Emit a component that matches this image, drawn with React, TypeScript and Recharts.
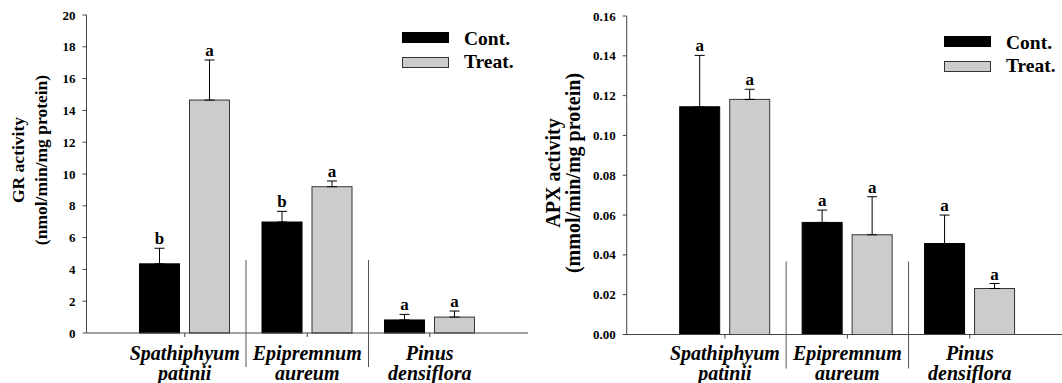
import React from 'react';
import { BarChart, Bar, XAxis, YAxis, ErrorBar, Legend } from 'recharts';

const FONT = "'Liberation Serif', 'Times New Roman', Times, serif";
const AXIS = '#444444';

// Categories (two-line italic labels)
const categoryLine1 = ['Spathiphyum', 'Epipremnum', 'Pinus'];
const categoryLine2 = ['patinii', 'aureum', 'densiflora'];

// GR activity (left panel)
const grCont = [4.35, 6.98, 0.82];
const grContErr = [0.98, 0.67, 0.35];
const grTreat = [14.65, 9.2, 1.0];
const grTreatErr = [2.52, 0.36, 0.38];
const grContLetters = ['b', 'b', 'a'];
const grTreatLetters = ['a', 'a', 'a'];
const grTicks = [0, 2, 4, 6, 8, 10, 12, 14, 16, 18, 20];

// APX activity (right panel)
const apxCont = [0.1144, 0.0563, 0.0457];
const apxContErr = [0.0258, 0.0062, 0.0143];
const apxTreat = [0.1181, 0.0501, 0.0231];
const apxTreatErr = [0.0051, 0.0191, 0.0025];
const apxContLetters = ['a', 'a', 'a'];
const apxTreatLetters = ['a', 'a', 'a'];
const apxTicks = [0, 0.02, 0.04, 0.06, 0.08, 0.1, 0.12, 0.14, 0.16];

const seriesNames = ['Cont.', 'Treat.'];
const seriesFill = ['#000000', '#cccccc'];
const seriesStroke = ['#000000', '#333333'];

function buildRows(cont: number[], contErr: number[], treat: number[], treatErr: number[], cl: string[], tl: string[]) {
  return categoryLine1.map((name, i) => ({
    name,
    cont: cont[i],
    contE: contErr[i],
    contErr: [0, contErr[i]],
    contLetter: cl[i],
    treat: treat[i],
    treatE: treatErr[i],
    treatErr: [0, treatErr[i]],
    treatLetter: tl[i],
  }));
}

const grData = buildRows(grCont, grContErr, grTreat, grTreatErr, grContLetters, grTreatLetters);
const apxData = buildRows(apxCont, apxContErr, apxTreat, apxTreatErr, apxContLetters, apxTreatLetters);

function makeShape(fill: string, stroke: string, valueKey: string, errKey: string, letterKey: string) {
  return (props: any) => {
    const { x, y, width, height, payload } = props;
    const v = payload[valueKey];
    const e = payload[errKey];
    const pxPerUnit = v ? height / v : 0;
    const topY = y - e * pxPerUnit;
    return (
      <g>
        <rect x={x} y={y} width={width} height={height} fill={fill} stroke={stroke} strokeWidth={1} />
        <text
          x={x + width / 2}
          y={topY - 4}
          textAnchor="middle"
          fontFamily={FONT}
          fontWeight="bold"
          fontSize={17}
          fill="#000"
        >
          {payload[letterKey]}
        </text>
      </g>
    );
  };
}

const CatTick = (props: any) => {
  const { x, y, payload, line1Dy, line2Dy } = props;
  const i = categoryLine1.indexOf(payload.value);
  const half = payload.offset ?? 0;
  return (
    <g>
      {i > 0 && <line x1={x - half} x2={x - half} y1={y - 77} y2={y + 30} stroke="#555" strokeWidth={1} />}
      <text x={x} y={y + line1Dy} textAnchor="middle" fontFamily={FONT} fontWeight="bold" fontStyle="italic" fontSize={20} fill="#000">
        {categoryLine1[i]}
      </text>
      <text x={x} y={y + line2Dy} textAnchor="middle" fontFamily={FONT} fontWeight="bold" fontStyle="italic" fontSize={20} fill="#000">
        {categoryLine2[i]}
      </text>
    </g>
  );
};

const AxisTitle = (props: any) => {
  const vb = props.viewBox || { x: 0, y: 0, width: 0, height: 0 };
  const { line1, line2, dx1, dx2, cy, size } = props;
  const x1 = vb.x + dx1;
  const x2 = vb.x + dx2;
  return (
    <g>
      <text transform={`translate(${x1},${cy}) rotate(-90)`} textAnchor="middle" dominantBaseline="central" fontFamily={FONT} fontWeight="bold" fontSize={size} fill="#000">
        {line1}
      </text>
      <text transform={`translate(${x2},${cy}) rotate(-90)`} textAnchor="middle" dominantBaseline="central" fontFamily={FONT} fontWeight="bold" fontSize={size} fill="#000">
        {line2}
      </text>
    </g>
  );
};

const LegendBox = () => (
  <svg width={140} height={50} style={{ overflow: 'visible', display: 'block' }}>
    <rect x={2.5} y={4.5} width={46} height={10} fill={seriesFill[0]} stroke={seriesStroke[0]} />
    <rect x={2.5} y={29.5} width={46} height={10} fill={seriesFill[1]} stroke={seriesStroke[1]} />
    <text x={64} y={17} fontFamily={FONT} fontWeight="bold" fontSize={19.5} fill="#000">{seriesNames[0]}</text>
    <text x={64} y={40} fontFamily={FONT} fontWeight="bold" fontSize={19.5} fill="#000">{seriesNames[1]}</text>
  </svg>
);

const tickStyle = { fontFamily: FONT, fontWeight: 'bold', fontSize: 13, fill: '#000' } as any;

function Panel(props: {
  data: any[];
  ticks: number[];
  fmt: (v: number) => string;
  top: number;
  xHeight: number;
  yWidth: number;
  title1: string;
  title2: string;
  dx1: number;
  dx2: number;
  cy: number;
  titleSize: number;
  legendLeft: number;
  legendTop: number;
  line1Dy: number;
  line2Dy: number;
}) {
  const p = props;
  const max = p.ticks[p.ticks.length - 1];
  return (
    <BarChart
      width={540}
      height={383}
      data={p.data}
      margin={{ top: p.top, right: 12, bottom: 0, left: 0 }}
      barSize={40}
      barGap={10}
    >
      <XAxis
        dataKey="name"
        type="category"
        interval={0}
        padding={{ left: 37, right: 37 }}
        height={p.xHeight}
        tickSize={4}
        tickMargin={0}
        tickLine={{ stroke: AXIS }}
        axisLine={{ stroke: AXIS }}
        tick={<CatTick line1Dy={p.line1Dy} line2Dy={p.line2Dy} />}
      />
      <XAxis
        xAxisId="top"
        orientation="top"
        dataKey="name"
        height={0}
        tick={false}
        tickLine={false}
        axisLine={{ stroke: AXIS }}
      />
      <YAxis
        type="number"
        domain={[0, max]}
        ticks={p.ticks}
        interval={0}
        width={p.yWidth}
        tickSize={4}
        tickMargin={7}
        tickFormatter={p.fmt}
        tick={tickStyle}
        tickLine={{ stroke: AXIS }}
        axisLine={{ stroke: AXIS }}
        label={<AxisTitle line1={p.title1} line2={p.title2} dx1={p.dx1} dx2={p.dx2} cy={p.cy} size={p.titleSize} />}
      />
      <YAxis yAxisId="right" orientation="right" width={0} tick={false} tickLine={false} axisLine={{ stroke: AXIS }} />
      <Legend
        layout="horizontal"
        verticalAlign="middle"
        align="center"
        content={<LegendBox />}
        wrapperStyle={{ left: p.legendLeft, top: p.legendTop, width: 140, height: 50 }}
      />
      <Bar dataKey="cont" name={seriesNames[0]} isAnimationActive={false} shape={makeShape(seriesFill[0], seriesStroke[0], 'cont', 'contE', 'contLetter')}>
        <ErrorBar dataKey="contErr" width={5} stroke="#000" strokeWidth={1} direction="y" isAnimationActive={false} />
      </Bar>
      <Bar dataKey="treat" name={seriesNames[1]} isAnimationActive={false} shape={makeShape(seriesFill[1], seriesStroke[1], 'treat', 'treatE', 'treatLetter')}>
        <ErrorBar dataKey="treatErr" width={5} stroke="#000" strokeWidth={1} direction="y" isAnimationActive={false} />
      </Bar>
    </BarChart>
  );
}

export default function App() {
  return (
    <div style={{ position: 'absolute', left: 0, top: 0, width: 1062, height: 383, overflow: 'hidden', background: '#fff' }}>
      <div style={{ position: 'absolute', left: 0, top: 0, width: 540, height: 383 }}>
        <Panel
          data={grData}
          ticks={grTicks}
          fmt={(v) => String(v)}
          top={15}
          xHeight={50}
          yWidth={86.5}
          title1="GR activity"
          title2="(nmol/min/mg protein)"
          dx1={17.5}
          dx2={40.5}
          cy={160}
          titleSize={17.5}
          legendLeft={400}
          legendTop={28}
          line1Dy={23}
          line2Dy={43}
        />
      </div>
      <div style={{ position: 'absolute', left: 540, top: 0, width: 540, height: 383 }}>
        <Panel
          data={apxData}
          ticks={apxTicks}
          fmt={(v) => v.toFixed(2)}
          top={16}
          xHeight={48.5}
          yWidth={86.7}
          title1="APX activity"
          title2="(mmol/min/mg protein)"
          dx1={12.5}
          dx2={32.5}
          cy={173}
          titleSize={20}
          legendLeft={402}
          legendTop={32}
          line1Dy={21.5}
          line2Dy={41.5}
        />
      </div>
    </div>
  );
}
